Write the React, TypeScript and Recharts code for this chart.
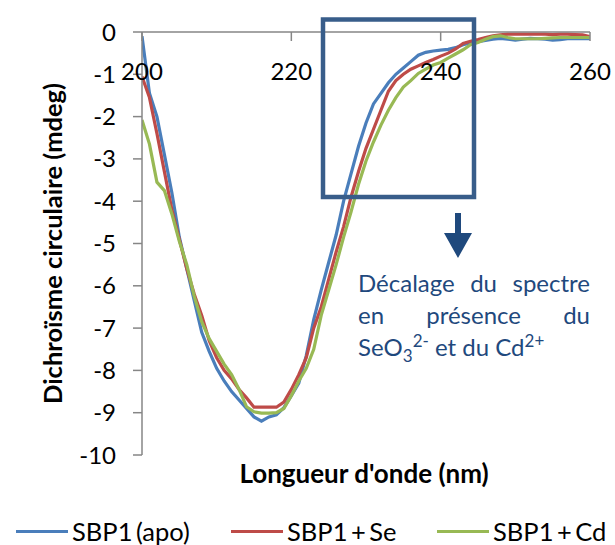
import { LineChart, Line, XAxis, YAxis, Legend, Label } from 'recharts'

/* ─── data ─── */
const WAVELENGTHS = [
  200, 201, 202, 203, 204, 205, 206, 207, 208, 209,
  210, 211, 212, 213, 214, 215, 216, 217, 218, 219,
  220, 221, 222, 223, 224, 225, 226, 227, 228, 229,
  230, 231, 232, 233, 234, 235, 236, 237, 238, 239,
  240, 241, 242, 243, 244, 245, 246, 247, 248, 249,
  250, 251, 252, 253, 254, 255, 256, 257, 258, 259, 260,
]

const APO = [
  -0.1, -1.45, -2.0, -2.9, -3.8, -4.85, -5.6, -6.35, -7.1, -7.55,
  -7.95, -8.25, -8.5, -8.7, -8.9, -9.1, -9.2, -9.1, -9.05, -8.88,
  -8.6, -8.3, -7.65, -6.8, -6.1, -5.45, -4.8, -4.0, -3.35, -2.7,
  -2.15, -1.7, -1.45, -1.2, -1.0, -0.85, -0.7, -0.55, -0.48, -0.45,
  -0.43, -0.41, -0.37, -0.3, -0.26, -0.23, -0.2, -0.17, -0.15, -0.17,
  -0.19, -0.17, -0.15, -0.16, -0.17, -0.19, -0.18, -0.16, -0.16, -0.16, -0.16,
]

const SE = [
  -1.05, -1.55, -2.4, -3.3, -4.2, -4.9, -5.6, -6.2, -6.7, -7.3,
  -7.7, -8.0, -8.2, -8.45, -8.65, -8.87, -8.87, -8.87, -8.87, -8.75,
  -8.45, -8.1, -7.7, -7.0, -6.5, -5.85, -5.2, -4.6, -3.9, -3.3,
  -2.75, -2.3, -1.85, -1.4, -1.15, -1.0, -0.88, -0.8, -0.72, -0.65,
  -0.57, -0.5, -0.4, -0.27, -0.22, -0.18, -0.13, -0.09, -0.07, -0.05,
  -0.05, -0.05, -0.05, -0.05, -0.05, -0.06, -0.05, -0.05, -0.06, -0.07, -0.11,
]

const CD = [
  -2.08, -2.65, -3.55, -3.75, -4.3, -4.95, -5.5, -6.25, -6.85, -7.25,
  -7.55, -7.85, -8.1, -8.45, -8.86, -8.98, -9.01, -9.01, -9.0, -8.9,
  -8.6, -8.25, -7.95, -7.5, -6.7, -6.1, -5.5, -4.85, -4.25, -3.6,
  -3.05, -2.6, -2.2, -1.85, -1.55, -1.3, -1.15, -0.98, -0.88, -0.78,
  -0.72, -0.62, -0.52, -0.42, -0.3, -0.25, -0.17, -0.11, -0.09, -0.13,
  -0.16, -0.16, -0.16, -0.16, -0.15, -0.14, -0.13, -0.13, -0.13, -0.13, -0.13,
]

const SERIES_NAMES = ['SBP1 (apo)', 'SBP1 + Se', 'SBP1 + Cd']
const X_TICKS = [200, 220, 240, 260]
const Y_TICKS = [0, -1, -2, -3, -4, -5, -6, -7, -8, -9, -10]

const data = WAVELENGTHS.map((nm, i) => ({ nm, apo: APO[i], se: SE[i], cd: CD[i] }))

/* ─── styles ─── */
const FONT = 'Lato, "Open Sans", sans-serif'
const AXIS_GREY = '#868686'
const NOTE_BLUE = '#1F497D'
const LEGEND_X = [16, 231, 437]

function XTick({ x, y, payload }: any) {
  return (
    <g>
      <line x1={x} x2={x} y1={y} y2={y + 9} stroke={AXIS_GREY} strokeWidth={1.5} />
      <text x={x} y={y + 48} textAnchor="middle" fontFamily={FONT} fontSize={24} fill="#000">
        {payload.value}
      </text>
    </g>
  )
}

function renderLegend(props: any) {
  const items = [...(props.payload || [])].sort(
    (a: any, b: any) => SERIES_NAMES.indexOf(a.value) - SERIES_NAMES.indexOf(b.value),
  )
  return (
    <div style={{ position: 'relative', height: 30, width: 615, fontFamily: FONT, fontSize: 25.5, wordSpacing: -3, color: '#000' }}>
      {items.map((p: any, i: number) => (
        <div key={p.value} style={{ position: 'absolute', left: LEGEND_X[i], top: 0, height: 30, display: 'flex', alignItems: 'center', whiteSpace: 'nowrap' }}>
          <span style={{ display: 'inline-block', width: 52, height: 3, background: p.color, marginRight: 4 }} />
          <span>{p.value}</span>
        </div>
      ))}
    </div>
  )
}

export default function App() {
  return (
    <div style={{ position: 'absolute', left: 0, top: 0, width: 615, height: 545, background: '#fff' }}>
      <LineChart width={615} height={545} data={data} margin={{ top: 31, right: 25, left: 0, bottom: 60 }}>
        <XAxis
          dataKey="nm" type="number" orientation="top" height={1}
          domain={[200, 260]} ticks={X_TICKS} allowDataOverflow
          axisLine={{ stroke: AXIS_GREY, strokeWidth: 1.5 }}
          tickLine={false} tickSize={0} tickMargin={0}
          tick={<XTick />} interval={0}
        />
        <YAxis
          type="number" domain={[-10, 0]} ticks={Y_TICKS} width={142}
          axisLine={{ stroke: AXIS_GREY, strokeWidth: 1.5 }}
          tickLine={{ stroke: AXIS_GREY, strokeWidth: 1.5 }}
          tickSize={9} tickMargin={17} interval={0}
          tick={{ fontFamily: FONT, fontSize: 24, fill: '#000' }}
        >
          <Label
            content={({ viewBox }: any) => {
              const cx = viewBox.x + 52
              const cy = viewBox.y + viewBox.height / 2
              return (
                <text
                  x={cx} y={cy} transform={`rotate(-90 ${cx} ${cy})`}
                  textAnchor="middle" dominantBaseline="central"
                  fontFamily={FONT} fontWeight={700} fontSize={25.5} fill="#000"
                >
                  Dichroïsme circulaire (mdeg)
                </text>
              )
            }}
          />
        </YAxis>
        <Legend content={renderLegend} wrapperStyle={{ left: 0, top: 516, bottom: 'auto', width: 615 }} />
        <Line type="linear" dataKey="apo" name={SERIES_NAMES[0]} stroke="#4A7EBB" strokeWidth={3.2} dot={false} isAnimationActive={false} />
        <Line type="linear" dataKey="se" name={SERIES_NAMES[1]} stroke="#BE4B48" strokeWidth={3.2} dot={false} isAnimationActive={false} />
        <Line type="linear" dataKey="cd" name={SERIES_NAMES[2]} stroke="#98B954" strokeWidth={3.2} dot={false} isAnimationActive={false} />
      </LineChart>

      {/* annotation overlay */}
      <svg width={615} height={545} style={{ position: 'absolute', left: 0, top: 0, pointerEvents: 'none' }}>
        <rect x={323} y={19.5} width={151} height={177.5} fill="none" stroke="#385D8A" strokeWidth={4.5} />
        <path d="M455,213 L461,213 L461,233 L472,233 L458,258 L444,233 L455,233 Z" fill={NOTE_BLUE} />
        <text x={364} y={483} textAnchor="middle" fontFamily={FONT} fontWeight={700} fontSize={26} fill="#000">
          Longueur d'onde (nm)
        </text>
      </svg>
      <div style={{ position: 'absolute', left: 358, top: 267, width: 232, fontFamily: FONT, fontSize: 24, lineHeight: '32px', color: NOTE_BLUE }}>
        <div style={{ textAlign: 'justify', textAlignLast: 'justify' }}>Décalage du spectre</div>
        <div style={{ textAlign: 'justify', textAlignLast: 'justify' }}>en présence du</div>
        <div>
          SeO<sub style={{ fontSize: 17, lineHeight: 0 }}>3</sub>
          <sup style={{ fontSize: 17, lineHeight: 0 }}>2-</sup> et du Cd<sup style={{ fontSize: 17, lineHeight: 0 }}>2+</sup>
        </div>
      </div>
    </div>
  )
}
